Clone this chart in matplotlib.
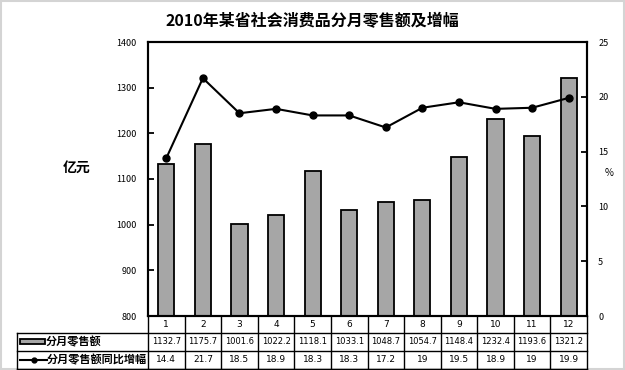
import matplotlib
matplotlib.use("Agg")
import matplotlib.pyplot as plt
from matplotlib.patches import Rectangle

plt.rcParams['font.family'] = ['Noto Sans CJK SC', 'DejaVu Sans']

months = ['1', '2', '3', '4', '5', '6', '7', '8', '9', '10', '11', '12']
sales = [1132.7, 1175.7, 1001.6, 1022.2, 1118.1, 1033.1, 1048.7, 1054.7, 1148.4, 1232.4, 1193.6, 1321.2]
growth = [14.4, 21.7, 18.5, 18.9, 18.3, 18.3, 17.2, 19, 19.5, 18.9, 19, 19.9]
sales_labels = ['1132.7', '1175.7', '1001.6', '1022.2', '1118.1', '1033.1', '1048.7', '1054.7', '1148.4', '1232.4', '1193.6', '1321.2']
growth_labels = ['14.4', '21.7', '18.5', '18.9', '18.3', '18.3', '17.2', '19', '19.5', '18.9', '19', '19.9']
title = '2010年某省社会消费品分月零售额及增幅'
name_sales = '分月零售额'
name_growth = '分月零售额同比增幅'

W, H = 625, 370
fig = plt.figure(figsize=(W / 100, H / 100), dpi=100)
fig.patch.set_facecolor('white')

L, R, T, B = 148, 587, 42, 316
ax = fig.add_axes([L / W, 1 - B / H, (R - L) / W, (B - T) / H])
x = list(range(len(months)))
bar_color = '#A6A6A6'
ax.bar(x, sales, width=0.44, color=bar_color, edgecolor='black', linewidth=1.3, zorder=2)
ax.set_xlim(-0.5, len(months) - 0.5)
ax.set_ylim(800, 1400)
ax.set_yticks(range(800, 1401, 100))
ax.set_xticks([])
ax.tick_params(axis='y', direction='in', length=4, width=1.3, labelsize=6.5, pad=8)
for s in ax.spines.values():
    s.set_linewidth(1.5)

ax2 = ax.twinx()
ax2.plot(x, growth, color='black', linewidth=1.5, marker='o', markersize=5, zorder=3)
ax2.set_ylim(0, 25)
ax2.set_yticks(range(0, 26, 5))
ax2.tick_params(axis='y', direction='in', length=4, width=1.3, labelsize=6.5, pad=8)
for s in ax2.spines.values():
    s.set_linewidth(1.5)

fig.text(312 / W, 1 - 21 / H, title, ha='center', va='center', fontsize=11.5, fontweight='bold')
fig.text(77 / W, 1 - 168 / H, '亿元', ha='center', va='center', fontsize=10, fontweight='bold')
fig.text(609 / W, 1 - 173 / H, '%', ha='center', va='center', fontsize=7)

# table drawn in pixel coordinates
tax = fig.add_axes([0, 0, 1, 1], zorder=-1)
tax.set_xlim(0, W)
tax.set_ylim(H, 0)
tax.axis('off')

fig.canvas.draw()
bounds = [ax.transData.transform((i - 0.5, 800))[0] for i in range(len(months) + 1)]
centers = [ax.transData.transform((i, 800))[0] for i in x]

r0, r1, r2, r3 = 316, 332.5, 350.5, 368.5
TL = 17
lw = 1.0
tax.plot([TL, R], [r1, r1], color='black', lw=lw)
tax.plot([TL, R], [r2, r2], color='black', lw=lw)
tax.plot([TL, R], [r3, r3], color='black', lw=lw)
tax.plot([TL, TL], [r1, r3], color='black', lw=lw)
for bx in bounds:
    tax.plot([bx, bx], [r0, r3], color='black', lw=lw)

for cx, m, s, g in zip(centers, months, sales_labels, growth_labels):
    tax.text(cx, (r0 + r1) / 2, m, ha='center', va='center', fontsize=6.5, family='DejaVu Sans')
    tax.text(cx, (r1 + r2) / 2, s, ha='center', va='center', fontsize=6.0, family='DejaVu Sans')
    tax.text(cx, (r2 + r3) / 2, g, ha='center', va='center', fontsize=6.5, family='DejaVu Sans')

tax.add_patch(Rectangle((20, (r1 + r2) / 2 - 2.5), 25, 5, facecolor=bar_color, edgecolor='black', lw=1.3))
tax.text(46, (r1 + r2) / 2, name_sales, ha='left', va='center', fontsize=8, fontweight='bold')
tax.plot([20, 47], [(r2 + r3) / 2] * 2, color='black', lw=1.5)
tax.plot([33.5], [(r2 + r3) / 2], marker='o', color='black', markersize=3.5)
tax.text(47, (r2 + r3) / 2, name_growth, ha='left', va='center', fontsize=8, fontweight='bold')

tax.add_patch(Rectangle((0.75, 0.75), W - 2, H - 1.75, facecolor='none', edgecolor='#D4D4D4', lw=1.5))

fig.savefig('out.png', dpi=100)
